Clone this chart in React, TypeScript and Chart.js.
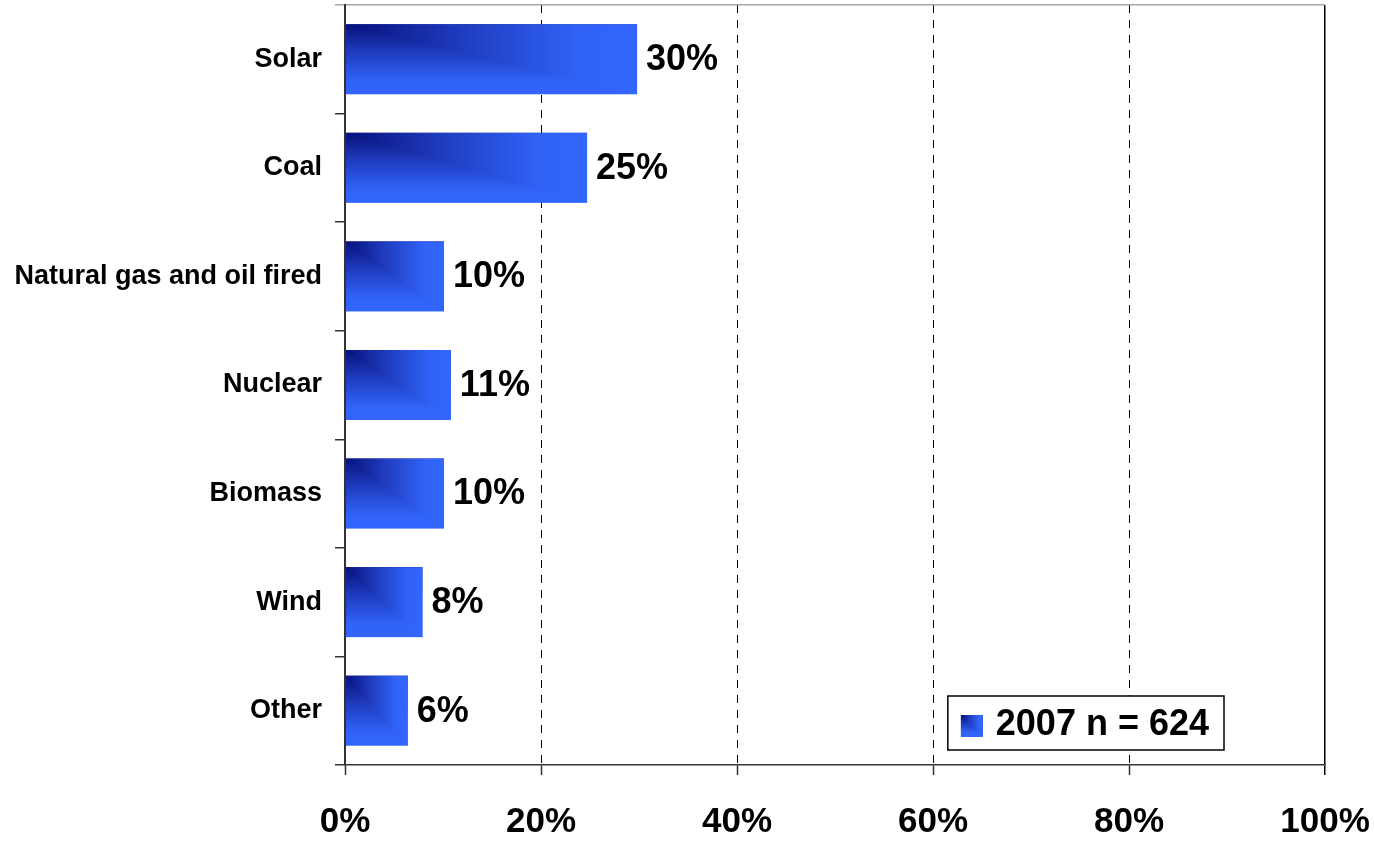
import React, { useEffect, useRef } from 'react';
import { Chart, registerables } from 'chart.js';

Chart.register(...registerables);

const categories = ['Solar', 'Coal', 'Natural gas and oil fired', 'Nuclear', 'Biomass', 'Wind', 'Other'];
const shares = [29.8, 24.7, 10.1, 10.8, 10.1, 7.9, 6.4];
const seriesLabel = '2007 n = 624';
const xTicks = [0, 20, 40, 60, 80, 100];

const FONT = "'Liberation Sans', Arial, Helvetica, sans-serif";
const GRADIENT_STOPS: [number, string][] = [
  [0, '#07107c'],
  [0.4, '#1f3cbf'],
  [0.8, '#3062f6'],
  [1, '#3366ff'],
];

function fillCornerGradient(ctx: CanvasRenderingContext2D, x0: number, y0: number, w: number, h: number) {
  const gh = ctx.createLinearGradient(x0, 0, x0 + w, 0);
  const gv = ctx.createLinearGradient(0, y0, 0, y0 + h);
  GRADIENT_STOPS.forEach(([o, c]) => {
    gh.addColorStop(o, c);
    gv.addColorStop(o, c);
  });
  ctx.save();
  ctx.fillStyle = gv;
  ctx.fillRect(x0, y0, w, h);
  ctx.beginPath();
  ctx.moveTo(x0, y0);
  ctx.lineTo(x0 + w, y0);
  ctx.lineTo(x0 + w, y0 + h);
  ctx.closePath();
  ctx.fillStyle = gh;
  ctx.fill();
  ctx.restore();
}

const customPlugin = {
  id: 'customBarsAndLegend',
  afterDatasetsDraw(chart: any) {
    const ctx: CanvasRenderingContext2D = chart.ctx;
    const meta = chart.getDatasetMeta(0);
    const values = chart.data.datasets[0].data as number[];
    meta.data.forEach((el: any, i: number) => {
      const p = el.getProps(['x', 'y', 'base', 'height'], true);
      const left = Math.min(p.x, p.base);
      const w = Math.abs(p.x - p.base);
      fillCornerGradient(ctx, left, p.y - p.height / 2, w, p.height);
      ctx.save();
      ctx.font = `bold 36px ${FONT}`;
      ctx.fillStyle = '#000';
      ctx.textAlign = 'left';
      ctx.textBaseline = 'middle';
      ctx.fillText(Math.round(values[i]) + '%', p.x + 9, p.y + 1);
      ctx.restore();
    });
  },
  afterDraw(chart: any) {
    const ctx: CanvasRenderingContext2D = chart.ctx;
    const a = chart.chartArea;
    const label = chart.data.datasets[0].label as string;
    ctx.save();
    ctx.font = `bold 36px ${FONT}`;
    const tw = ctx.measureText(label).width;
    const boxH = 54;
    const boxW = 48 + tw + 15;
    const right = a.right - 101;
    const bottom = a.bottom - 15;
    const left = right - boxW;
    const top = bottom - boxH;
    ctx.fillStyle = '#fff';
    ctx.fillRect(left, top, boxW, boxH);
    ctx.strokeStyle = '#000';
    ctx.lineWidth = 1.5;
    ctx.strokeRect(left, top, boxW, boxH);
    fillCornerGradient(ctx, left + 13, top + 19, 22, 22);
    ctx.fillStyle = '#000';
    ctx.textAlign = 'left';
    ctx.textBaseline = 'middle';
    ctx.fillText(label, left + 48, top + boxH / 2 + 2);
    ctx.restore();
  },
};

export default function App() {
  const ref = useRef<HTMLCanvasElement>(null);

  useEffect(() => {
    const canvas = ref.current;
    if (!canvas) return;
    Chart.defaults.font.family = FONT;
    const chart = new Chart(canvas, {
      type: 'bar',
      data: {
        labels: categories,
        datasets: [
          {
            label: seriesLabel,
            data: shares,
            backgroundColor: 'rgba(0,0,0,0)',
            borderWidth: 0,
            categoryPercentage: 1,
            barPercentage: 0.645,
          },
        ],
      },
      options: {
        indexAxis: 'y',
        responsive: false,
        animation: false,
        devicePixelRatio: 1,
        layout: { padding: { top: 5, right: 49, left: 0, bottom: 0 } },
        plugins: {
          legend: { display: false },
          tooltip: { enabled: false },
          title: { display: false },
        },
        scales: {
          x: {
            type: 'linear',
            min: 0,
            max: 100,
            afterBuildTicks: (scale: any) => {
              scale.ticks = xTicks.map((v) => ({ value: v }));
            },
            afterFit: (scale: any) => {
              scale.height = 76;
              scale.paddingLeft = 0;
              scale.paddingRight = 0;
              scale.paddingTop = 0;
              scale.paddingBottom = 0;
            },
            ticks: {
              callback: (v: any) => v + '%',
              font: { size: 35, weight: 'bold' },
              color: '#000',
              padding: 26,
              maxRotation: 0,
              autoSkip: false,
            },
            grid: {
              color: (c: any) => {
                const v = c.tick ? c.tick.value : -1;
                if (v === 0) return 'rgba(0,0,0,0)';
                return '#000';
              },
              lineWidth: (c: any) => (c.tick && c.tick.value === 100 ? 1.5 : 1),
              tickColor: (c: any) => (c.tick && c.tick.value === 100 ? '#000' : '#333'),
              tickLength: 10,
              tickWidth: 1.5,
            },
            border: {
              color: '#333',
              width: 1.5,
              z: 1,
              dash: (c: any) => {
                const v = c.tick ? c.tick.value : -1;
                return v > 0 && v < 100 ? [8, 7] : [];
              },
            },
          },
          y: {
            type: 'category',
            afterFit: (scale: any) => {
              scale.width = 345;
              scale.paddingLeft = 0;
              scale.paddingRight = 0;
              scale.paddingTop = 0;
              scale.paddingBottom = 0;
            },
            ticks: {
              font: { size: 27, weight: 'bold' },
              color: '#000',
              padding: 13,
              autoSkip: false,
            },
            grid: {
              offset: true,
              drawOnChartArea: true,
              color: (c: any) => (c.index === 0 ? '#a8a8a8' : 'rgba(0,0,0,0)'),
              lineWidth: 1.5,
              tickColor: (c: any) => (c.index === 0 ? '#a8a8a8' : '#333'),
              tickLength: 10,
              tickWidth: 1.5,
            },
            border: { color: '#333', width: 2, z: 1 },
          },
        },
      },
      plugins: [customPlugin],
    } as any);
    return () => chart.destroy();
  }, []);

  return (
    <div style={{ position: 'absolute', left: 0, top: 0, width: 1374, height: 841, background: '#fff' }}>
      <canvas ref={ref} width={1374} height={841} style={{ display: 'block', width: 1374, height: 841 }} />
    </div>
  );
}
